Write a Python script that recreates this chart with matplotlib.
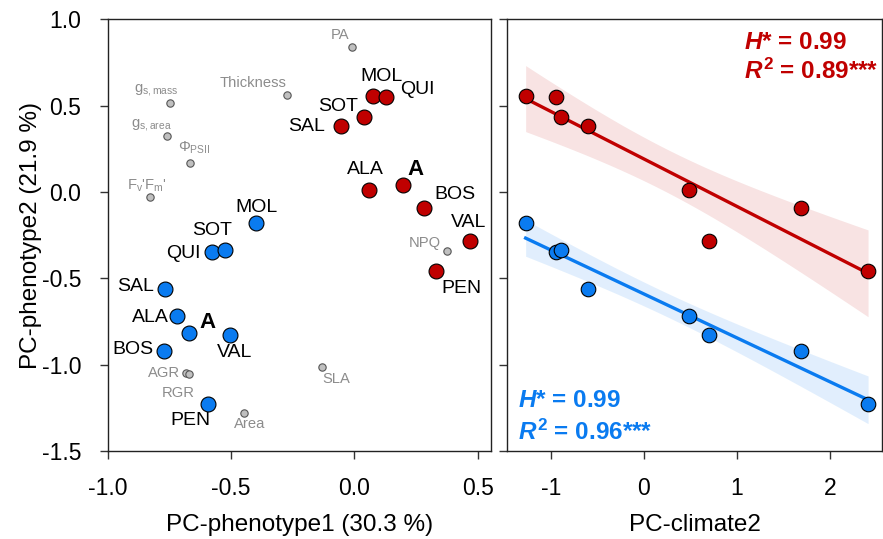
import matplotlib
matplotlib.use("Agg")
import matplotlib.pyplot as plt
import numpy as np

plt.rcParams["font.family"] = ["Liberation Sans", "DejaVu Sans"]
plt.rcParams["mathtext.fontset"] = "custom"
plt.rcParams["mathtext.rm"] = "Liberation Sans"
plt.rcParams["mathtext.it"] = "Liberation Sans:italic:bold"
plt.rcParams["mathtext.bf"] = "Liberation Sans:bold"
plt.rcParams["axes.unicode_minus"] = False

RED = "#C00000"
BLUE = "#0A7BF0"
GREY_TXT = "#8C8C8C"

# ---- data -----------------------------------------------------------------
pops = ["MOL", "QUI", "SOT", "SAL", "ALA", "A", "BOS", "VAL", "PEN"]
red_pc1 = [0.074, 0.127, 0.039, -0.054, 0.059, 0.196, 0.282, 0.469, 0.331]
red_pc2 = [0.555, 0.548, 0.432, 0.379, 0.010, 0.039, -0.093, -0.282, -0.456]
blue_pc1 = [-0.399, -0.577, -0.523, -0.769, -0.719, -0.671, -0.770, -0.504, -0.594]
blue_pc2 = [-0.180, -0.350, -0.338, -0.560, -0.721, -0.816, -0.922, -0.831, -1.227]

traits = ["PA", "Thickness", r"g$_{\mathrm{s,mass}}$", r"g$_{\mathrm{s,area}}$",
          r"$\Phi_{\mathrm{PSII}}$", r"F$_{\mathrm{v}}$'F$_{\mathrm{m}}$'",
          "NPQ", "SLA", "AGR", "RGR", "Area"]
trait_pc1 = [-0.012, -0.272, -0.749, -0.758, -0.668, -0.829, 0.376, -0.133, -0.684, -0.672, -0.449]
trait_pc2 = [0.841, 0.561, 0.513, 0.323, 0.168, -0.032, -0.342, -1.015, -1.050, -1.053, -1.280]

# climate PC2 per population (A = mean, not in right panel)
clim_pops = ["MOL", "QUI", "SOT", "SAL", "ALA", "VAL", "BOS", "PEN"]
clim_pc2 = [-1.27, -0.94, -0.885, -0.60, 0.487, 0.70, 1.69, 2.41]

# label offsets in pixels (layout)
red_off = {"MOL": (9, 20), "QUI": (32, 8), "SOT": (-26, 11), "SAL": (-35, 0),
           "ALA": (-4, 21), "A": (13, 16), "BOS": (31, 13), "VAL": (-2, 18),
           "PEN": (25, -18)}
blue_off = {"MOL": (0, 16), "QUI": (-29, -1), "SOT": (-13, 20), "SAL": (-29, 2),
            "ALA": (-27, -1), "A": (19, 10), "BOS": (-32, 2), "VAL": (4, -17),
            "PEN": (-17, -17)}
trait_off = [(-11, 12), (-34, 12), (-13, 13), (-16, 11), (5, 15), (-3, 12),
             (-22, 8), (15, -12), (-22, 0), (-10, -19), (6, -11)]

fig = plt.figure(figsize=(8.83, 5.39), dpi=100)
ax1 = fig.add_axes([0.122, 0.1633, 0.4337, 0.801])
ax2 = fig.add_axes([0.5742, 0.1633, 0.4247, 0.801])

# ---- left: PCA biplot -----------------------------------------------------
ax1.scatter(trait_pc1, trait_pc2, s=28, color="#C0C0C0", edgecolor="#555555",
            linewidth=0.8, zorder=3)
for name, x, y, off in zip(traits, trait_pc1, trait_pc2, trait_off):
    ax1.annotate(name, (x, y), xytext=off, textcoords="offset pixels",
                 ha="center", va="center", fontsize=10.6, color=GREY_TXT)

for xs, ys, col, offs in [(red_pc1, red_pc2, RED, red_off),
                          (blue_pc1, blue_pc2, BLUE, blue_off)]:
    ax1.scatter(xs, ys, s=115, color=col, edgecolor="black", linewidth=0.8,
                zorder=4)
    for name, x, y in zip(pops, xs, ys):
        bold = name == "A"
        ax1.annotate(name, (x, y), xytext=offs[name], textcoords="offset pixels",
                     ha="center", va="center", fontsize=16 if bold else 14,
                     fontweight="bold" if bold else "normal", color="black")

ax1.set_xlim(-1.0, 0.552)
ax1.set_ylim(-1.5, 1.0)
ax1.set_xticks([-1.0, -0.5, 0.0, 0.5])
ax1.set_yticks([-1.5, -1.0, -0.5, 0.0, 0.5, 1.0])
ax1.xaxis.set_major_formatter(matplotlib.ticker.FormatStrFormatter("%.1f"))
ax1.yaxis.set_major_formatter(matplotlib.ticker.FormatStrFormatter("%.1f"))
ax1.set_xlabel("PC-phenotype1 (30.3 %)", fontsize=17.5, labelpad=10)
ax1.set_ylabel("PC-phenotype2 (21.9 %)", fontsize=17.5, labelpad=0)

# ---- right: regression vs climate -----------------------------------------
red_clim = [red_pc2[pops.index(p)] for p in clim_pops]
blue_clim = [blue_pc2[pops.index(p)] for p in clim_pops]


def fit_band(ax, x, y, col, band_alpha):
    x = np.asarray(x)
    y = np.asarray(y)
    n = len(x)
    b, a = np.polyfit(x, y, 1)
    xx = np.linspace(x.min(), x.max(), 100)
    yy = a + b * xx
    resid = y - (a + b * x)
    s = np.sqrt(np.sum(resid ** 2) / (n - 2))
    sxx = np.sum((x - x.mean()) ** 2)
    t = 2.447  # t(0.975, df=6)
    se = s * np.sqrt(1 / n + (xx - x.mean()) ** 2 / sxx)
    ax.fill_between(xx, yy - t * se, yy + t * se, color=col, alpha=band_alpha,
                    linewidth=0, zorder=1)
    ax.plot(xx, yy, color=col, lw=2.4, zorder=2)
    ax.scatter(x, y, s=110, color=col, edgecolor="black", linewidth=0.8,
               zorder=4)


fit_band(ax2, clim_pc2, red_clim, RED, 0.11)
fit_band(ax2, clim_pc2, blue_clim, BLUE, 0.12)

tkw = dict(fontsize=17.5, fontweight="bold", va="center",
           transform=ax2.transAxes)
ax2.text(0.632, 0.947, r"$\mathit{H}$* = 0.99", color=RED, **tkw)
ax2.text(0.632, 0.880, r"$\mathit{R}^{\mathbf{2}}$ = 0.89***", color=RED, **tkw)
ax2.text(0.03, 0.118, r"$\mathit{H}$* = 0.99", color=BLUE, **tkw)
ax2.text(0.03, 0.043, r"$\mathit{R}^{\mathbf{2}}$ = 0.96***", color=BLUE, **tkw)

ax2.set_xlim(-1.47, 2.56)
ax2.set_ylim(-1.5, 1.0)
ax2.set_xticks([-1, 0, 1, 2])
ax2.set_yticks([-1.5, -1.0, -0.5, 0.0, 0.5, 1.0])
ax2.set_yticklabels([])
ax2.set_xlabel("PC-climate2", fontsize=17.5, labelpad=10)

for ax in (ax1, ax2):
    ax.tick_params(direction="out", length=6, width=1, labelsize=16.5, pad=13,
                   color="#333333")
    for sp in ax.spines.values():
        sp.set_linewidth(1.0)
        sp.set_color("#222222")

fig.savefig("out.png", dpi=100)
